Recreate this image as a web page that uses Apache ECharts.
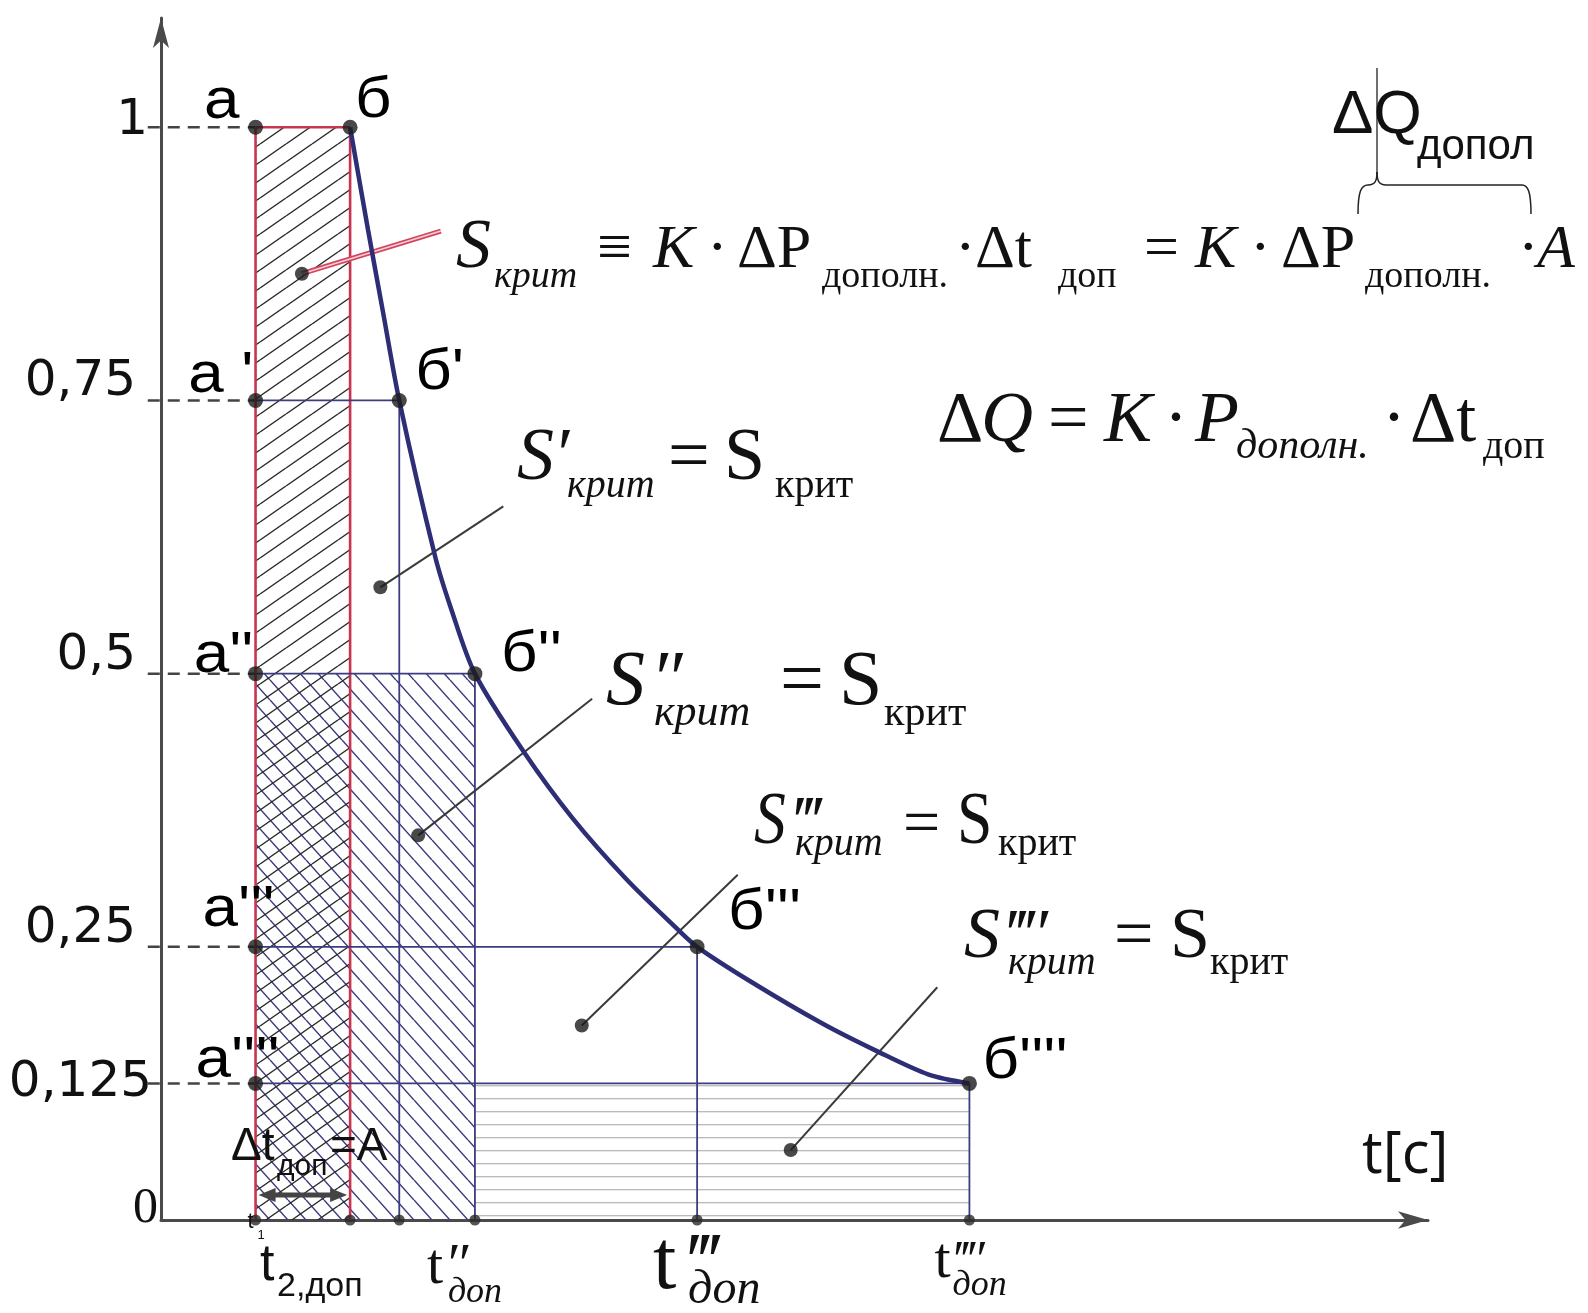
<!DOCTYPE html>
<html><head><meta charset="utf-8">
<script src="https://cdn.jsdelivr.net/npm/echarts@6/dist/echarts.min.js"></script>
<style>html,body{margin:0;padding:0;background:#fff}#chart{width:1588px;height:1313px}</style>
</head><body><div id="chart"></div>
<script>
// Relative load level on every step (а … а'''')
const levels = [1, 0.75, 0.5, 0.25, 0.125];
// Start of the additional-load interval, t1
const tStart = 1.0;
// End of every step: points б … б''''
const tEnd = [2.0, 2.52, 3.32, 5.67, 8.55];
const labelsA = ['а', "а '", "а''", "а'''", "а''''"];
const labelsB = ['б', "б'", "б''", "б'''", "б''''"];
// Y axis ticks
const yTickValues = [0, 0.125, 0.25, 0.5, 0.75, 1];
const yTickLabels = ['0', '0,125', '0,25', '0,5', '0,75', '1'];
// Limiting curve through the б points
const curveT = [2.0, 2.19, 2.35, 2.52, 2.90, 3.07, 3.32, 3.84, 4.35, 4.92, 5.44, 5.67, 6.24, 6.99, 7.56, 8.12, 8.55];
const curveP = [1.0, 0.906, 0.83, 0.75, 0.607, 0.559, 0.5, 0.428, 0.368, 0.312, 0.268, 0.25, 0.218, 0.180, 0.155, 0.133, 0.125];
// Pointer dots inside the areas and the far ends of their leader lines
const pointerFrom = [[1.49, 0.866], [2.32, 0.579], [2.72, 0.352], [4.45, 0.178], [6.66, 0.064]];
const pointerTo = [[2.96, 0.905], [3.62, 0.653], [4.56, 0.477], [6.10, 0.316], [8.21, 0.213]];

const SERIF = 'Liberation Serif';
const SANS = 'Liberation Sans';
const RED = '#c8354e';
const NAVY = '#3c3c80';
const CURVE = '#2e2e76';
const AXIS = '#4a4a4a';

// tiled hatch patterns: 0 = "\" , 1 = "/" , 2 = horizontal
function hatch(kind, w, h, color, lw) {
  const c = document.createElement('canvas');
  c.width = w; c.height = h;
  const g = c.getContext('2d');
  g.strokeStyle = color; g.lineWidth = lw;
  g.beginPath();
  if (kind === 'back') {
    for (let n = -1; n <= 1; n++) { g.moveTo(0, n * h); g.lineTo(w, h + n * h); }
  } else if (kind === 'fwd') {
    for (let n = -1; n <= 1; n++) { g.moveTo(0, h + n * h); g.lineTo(w, n * h); }
  } else {
    g.moveTo(0, h / 2); g.lineTo(w, h / 2);
  }
  g.stroke();
  return { image: c, repeat: 'repeat' };
}
const patterns = [
  hatch('back', 18, 20, NAVY, 1.5),
  hatch('fwd', 26, 18, '#2a2a2a', 1.4),
  hatch('horiz', 40, 13.5, '#a4a4a4', 1.2)
];

const hatchRects = [
  [tStart, tEnd[2], 0, levels[2], 0],
  [tStart, tEnd[0], 0, levels[0], 1],
  [tEnd[2], tEnd[4], 0, levels[4], 2]
];

// outline segments [x0, y0, x1, y1, style]
const segs = [];
levels.forEach(lv => segs.push([-0.14, lv, tStart, lv, 0]));          // dashed guides from the axis
segs.push([tStart, 0, tStart, levels[0], 1], [tStart, levels[0], tEnd[0], levels[0], 1], [tEnd[0], levels[0], tEnd[0], 0, 1]);
for (let i = 1; i < levels.length; i++) {
  segs.push([tStart, levels[i], tEnd[i], levels[i], 2]);
  segs.push([tEnd[i], levels[i], tEnd[i], 0, 2]);
}
const segStyles = [
  { stroke: '#444', lineWidth: 2.5, lineDash: [12, 8] },
  { stroke: RED, lineWidth: 2.6 },
  { stroke: NAVY, lineWidth: 1.8 }
];

const leaders = pointerFrom.map((p, i) => [p[0], p[1], pointerTo[i][0], pointerTo[i][1], i === 0 ? 1 : 0]);

const pointDots = [];
levels.forEach((lv, i) => { pointDots.push([tStart, lv]); pointDots.push([tEnd[i], lv]); });
const axisDots = [[tStart, 0]].concat(tEnd.map(t => [t, 0]));

const yRich = {
  n: { fontFamily: 'DejaVu Sans', fontSize: 50, color: '#111', lineHeight: 36, padding: [0, 22, 0, 0] },
  one: { fontFamily: 'DejaVu Sans', fontSize: 50, color: '#111', lineHeight: 12, padding: [0, 10, 0, 0] },
  p: { fontFamily: 'DejaVu Sans', fontSize: 50, color: '#111', lineHeight: 0, padding: [0, 6, 0, 0] },
  z: { fontFamily: SERIF, fontSize: 50, color: '#111', lineHeight: 22, padding: [0, 0, 0, 0] }
};

const chart = echarts.init(document.getElementById('chart'), null, { renderer: 'canvas' });
chart.setOption({
  animation: false,
  backgroundColor: '#fff',
  grid: { left: 161, right: 160, top: 18, bottom: 93 },
  xAxis: {
    type: 'value', min: 0, max: 13.4,
    axisLine: { show: true, onZero: false, symbol: ['none', 'arrow'], symbolSize: [13, 30], lineStyle: { color: AXIS, width: 3 } },
    axisTick: { show: false }, axisLabel: { show: false }, splitLine: { show: false }
  },
  yAxis: {
    type: 'value', min: 0, max: 1.1,
    axisLine: { show: true, symbol: ['none', 'arrow'], symbolSize: [12, 30], lineStyle: { color: AXIS, width: 3 } },
    axisTick: { show: false }, splitLine: { show: false },
    axisLabel: {
      customValues: yTickValues, margin: 3, verticalAlign: 'bottom',
      formatter: v => {
        const s = yTickLabels[yTickValues.indexOf(v)];
        const key = v === 0 ? 'z' : v === 1 ? 'one' : v === 0.125 ? 'p' : 'n';
        return '{' + key + '|' + s + '}';
      },
      rich: yRich
    }
  },
  series: [
    {
      type: 'custom', name: 'hatch', z: 1, data: hatchRects, encode: { x: [0, 1], y: [2, 3] },
      renderItem: (params, api) => {
        const a = api.coord([api.value(0), api.value(3)]);
        const b = api.coord([api.value(1), api.value(2)]);
        return { type: 'rect', shape: { x: a[0], y: a[1], width: b[0] - a[0], height: b[1] - a[1] },
          style: { fill: patterns[api.value(4)] } };
      }
    },
    {
      type: 'custom', name: 'outline', z: 2, data: segs, encode: { x: [0, 2], y: [1, 3] },
      renderItem: (params, api) => {
        const a = api.coord([api.value(0), api.value(1)]);
        const b = api.coord([api.value(2), api.value(3)]);
        return { type: 'line', shape: { x1: a[0], y1: a[1], x2: b[0], y2: b[1] }, style: Object.assign({}, segStyles[api.value(4)]) };
      }
    },
    {
      type: 'custom', name: 'leaders', z: 3, data: leaders, encode: { x: [0, 2], y: [1, 3] },
      renderItem: (params, api) => {
        const a = api.coord([api.value(0), api.value(1)]);
        const b = api.coord([api.value(2), api.value(3)]);
        const shape = { x1: a[0], y1: a[1], x2: b[0], y2: b[1] };
        if (api.value(4) === 1) {
          return { type: 'group', children: [
            { type: 'line', shape, style: { stroke: '#d2455e', lineWidth: 5 } },
            { type: 'line', shape, style: { stroke: '#f6d0d6', lineWidth: 1.6 } }
          ] };
        }
        return { type: 'line', shape, style: { stroke: '#3a3a3a', lineWidth: 2 } };
      }
    },
    {
      type: 'custom', name: 'dt-arrow', z: 3, data: [[tStart, tEnd[0]]], encode: { x: [0, 1] },
      renderItem: (params, api) => {
        const a = api.coord([api.value(0), 0]);
        const b = api.coord([api.value(1), 0]);
        const y = a[1] - 25, x0 = a[0] + 3, x1 = b[0] - 3;
        return { type: 'group', children: [
          { type: 'line', shape: { x1: x0 + 8, y1: y, x2: x1 - 8, y2: y }, style: { stroke: '#444', lineWidth: 5 } },
          { type: 'polygon', shape: { points: [[x0, y], [x0 + 17, y - 7], [x0 + 17, y + 7]] }, style: { fill: '#444' } },
          { type: 'polygon', shape: { points: [[x1, y], [x1 - 17, y - 7], [x1 - 17, y + 7]] }, style: { fill: '#444' } }
        ] };
      }
    },
    {
      type: 'line', name: 'curve', z: 4, data: curveT.map((t, i) => [t, curveP[i]]),
      smooth: 0.3, showSymbol: false, lineStyle: { color: CURVE, width: 4.5 }
    },
    {
      type: 'scatter', name: 'points', z: 5, data: pointDots, symbolSize: 15, itemStyle: { color: '#1c1c1c' }
    },
    {
      type: 'scatter', name: 'axis points', z: 5, data: axisDots, symbolSize: 11, itemStyle: { color: '#2a2a2a' }
    },
    {
      type: 'scatter', name: 'pointers', z: 5, data: pointerFrom, symbolSize: 14, itemStyle: { color: '#1c1c1c' }
    }
  ]
});

// ---- text --------------------------------------------------------------
function txt(t, x, base, size, o) {
  o = o || {};
  const fam = o.fam || SERIF;
  const k = fam === SERIF ? 0.338 : 0.347;
  return {
    type: 'text', x: x, y: base - k * size, scaleX: o.sx || 1, z: 50,
    style: { text: t, fontSize: size, fontFamily: fam, fontStyle: o.it ? 'italic' : 'normal',
      fill: o.fill || '#111', align: o.align || 'left', verticalAlign: 'middle' }
  };
}
const it = { it: true };
const sans = { fam: SANS };
const g = [];

// S_крит ≡ К·ΔP_дополн.·Δt_доп = К·ΔP_дополн.·A
g.push(txt('S', 456, 272, 70, it), txt('крит', 494, 290, 38, it), txt('≡', 597, 272, 62),
  txt('К', 653, 272, 62, it), txt('·', 707, 272, 62), txt('ΔP', 737, 272, 62), txt('дополн.', 822, 290, 38),
  txt('·', 955, 272, 62), txt('Δt', 975, 272, 62), txt('доп', 1058, 290, 38), txt('=', 1144, 272, 62),
  txt('К', 1195, 272, 62, it), txt('·', 1250, 272, 62), txt('ΔP', 1281, 272, 62), txt('дополн.', 1365, 290, 38),
  txt('·', 1518, 272, 62), txt('A', 1537, 272, 62, it));
// ΔQ = K·P_дополн.·Δt_доп
g.push(txt('Δ', 937, 446, 72), txt('Q', 981, 446, 72, it), txt('=', 1048, 446, 72), txt('K', 1104, 446, 72, it),
  txt('·', 1164, 446, 72), txt('P', 1195, 446, 72, it), txt('дополн.', 1236, 461, 42, it),
  txt('·', 1382, 446, 72), txt('Δt', 1410, 446, 72), txt('доп', 1483, 461, 40));
// area equalities
g.push(txt('S', 517, 485, 74, it), txt('′', 553, 485, 74, it), txt('крит', 567, 500, 40, it),
  txt('=', 668, 485, 74), txt('S', 724, 485, 74), txt('крит', 775, 500, 40));
g.push(txt('S', 606, 710, 78, it), txt('″', 650, 710, 78, it), txt('крит', 654, 728, 44, it),
  txt('=', 780, 710, 78), txt('S', 839, 710, 78), txt('крит', 884, 728, 42));
g.push(txt('S', 754, 849, 74, { it: true, sx: 0.86 }), txt('‴', 790, 849, 70, it), txt('крит', 795, 858, 40, it),
  txt('=', 903, 849, 66), txt('S', 957, 849, 74, { sx: 0.86 }), txt('крит', 998, 858, 40));
g.push(txt('S', 964, 962, 72, it), txt('‴′', 1003, 962, 70, it), txt('крит', 1008, 977, 40, it),
  txt('=', 1114, 962, 70), txt('S', 1170, 962, 72), txt('крит', 1210, 977, 40));
// ΔQ_допол with its brace
g.push(txt('ΔQ', 1332, 137, 62, sans), txt('допол', 1417, 162, 42, sans));
const brace = { stroke: '#222', lineWidth: 1.5, fill: null };
g.push({ type: 'line', z: 49, shape: { x1: 1377, y1: 68, x2: 1377, y2: 174 }, style: { stroke: '#222', lineWidth: 1.3 } });
g.push({ type: 'bezierCurve', z: 49, shape: { x1: 1358, y1: 214, cpx1: 1358, cpy1: 192, cpx2: 1361, cpy2: 185, x2: 1368, y2: 185 }, style: brace });
g.push({ type: 'bezierCurve', z: 49, shape: { x1: 1368, y1: 185, cpx1: 1375, cpy1: 185, cpx2: 1377, cpy2: 181, x2: 1377, y2: 172 }, style: brace });
g.push({ type: 'bezierCurve', z: 49, shape: { x1: 1377, y1: 172, cpx1: 1377, cpy1: 181, cpx2: 1379, cpy2: 185, x2: 1386, y2: 185 }, style: brace });
g.push({ type: 'line', z: 49, shape: { x1: 1386, y1: 185, x2: 1522, y2: 185 }, style: brace });
g.push({ type: 'bezierCurve', z: 49, shape: { x1: 1522, y1: 185, cpx1: 1528, cpy1: 185, cpx2: 1531, cpy2: 192, x2: 1531, y2: 214 }, style: brace });
// Δt_доп = A
g.push(txt('Δt', 231, 1163, 46, sans), txt('доп', 277, 1177, 30, sans), txt('=A', 330, 1163, 46, sans));
// t[c]
g.push(txt('t[c]', 1362, 1177, 58, { fam: 'Open Sans' }));

// point names next to а / б points
const px = p => chart.convertToPixel({ xAxisIndex: 0, yAxisIndex: 0 }, p);
const aOff = [[-16, -5, 'right'], [-2, -4, 'right'], [-2, 2, 'right'], [-53, -17, 'left'], [-60, -2, 'left']];
const bOff = [[5, -6], [16, -7], [26, 1], [31, -14], [13, -1]];
const lab = { fam: SANS, fill: '#000', sx: 1.1 };
levels.forEach((lv, i) => {
  const a = px([tStart, lv]);
  g.push(txt(labelsA[i], a[0] + aOff[i][0], a[1] + aOff[i][1], 58, Object.assign({ align: aOff[i][2] }, lab)));
  const b = px([tEnd[i], lv]);
  g.push(txt(labelsB[i], b[0] + bOff[i][0], b[1] + bOff[i][1], 58, lab));
});

// time marks under the axis
const o1 = px([tStart, 0]);
g.push(txt('t', o1[0] - 8, o1[1] + 10, 22, sans), txt('1', o1[0] + 2, o1[1] + 20, 13, sans));
const o2 = px([tEnd[0], 0]);
g.push(txt('t', o2[0] - 90, o2[1] + 64, 52, sans), txt('2,доп', o2[0] - 73, o2[1] + 78, 34, sans));
const o3 = px([tEnd[2], 0]);
g.push(txt('t', o3[0] - 48, o3[1] + 67, 58), txt('″', o3[0] - 31, o3[1] + 67, 58, it), txt('доп', o3[0] - 27, o3[1] + 85, 36, it));
const o4 = px([tEnd[3], 0]);
g.push(txt('t', o4[0] - 44, o4[1] + 74, 84), txt('‴', o4[0] - 14, o4[1] + 74, 80, it), txt('доп', o4[0] - 9, o4[1] + 87, 48, it));
const o5 = px([tEnd[4], 0]);
g.push(txt('t', o5[0] - 35, o5[1] + 61, 58), txt('‴′', o5[0] - 18, o5[1] + 61, 52, it), txt('доп', o5[0] - 17, o5[1] + 78, 36, it));

chart.setOption({ graphic: g });
</script>
</body></html>
